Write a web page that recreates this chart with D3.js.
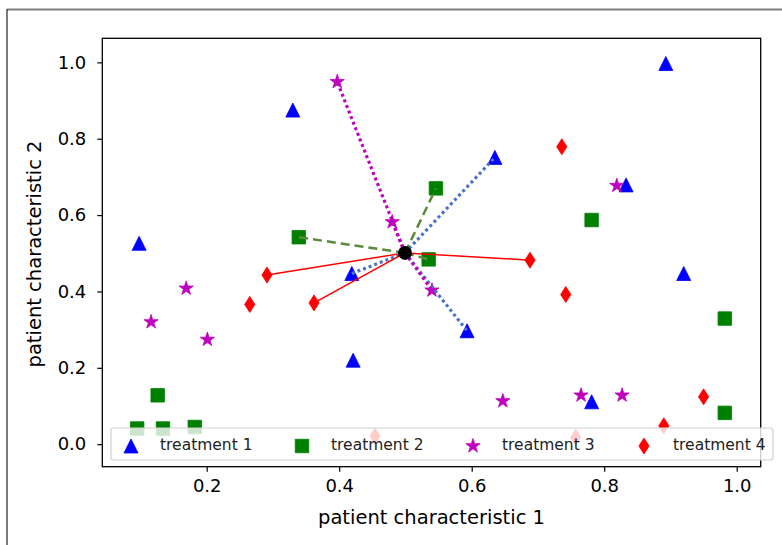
<!DOCTYPE html>
<html>
<head>
<meta charset="utf-8">
<script src="https://cdn.jsdelivr.net/npm/d3@7"></script>
<style>
  body { margin: 0; background: #fff; }
  svg { font-family: "DejaVu Sans", sans-serif; }
</style>
</head>
<body>
<svg id="svg" width="782" height="545"></svg>
<script>
// treatment 1 (triangles)
var t1x = [0.098, 0.330, 0.419, 0.635, 0.593, 0.421, 0.893, 0.833, 0.920, 0.781]
var t1y = [0.526, 0.875, 0.447, 0.751, 0.297, 0.220, 0.997, 0.679, 0.447, 0.111]
// treatment 2 (squares)
var t2x = [0.339, 0.546, 0.535, 0.781, 0.982, 0.982, 0.126, 0.095, 0.134, 0.182]
var t2y = [0.542, 0.670, 0.484, 0.587, 0.329, 0.082, 0.128, 0.041, 0.041, 0.045]
// treatment 3 (stars)
var t3x = [0.397, 0.480, 0.540, 0.116, 0.169, 0.201, 0.647, 0.765, 0.827, 0.819]
var t3y = [0.949, 0.582, 0.403, 0.320, 0.408, 0.274, 0.113, 0.128, 0.128, 0.677]
// treatment 4 (diamonds)
var t4x = [0.291, 0.362, 0.688, 0.265, 0.736, 0.742, 0.950, 0.890, 0.757, 0.454]
var t4y = [0.443, 0.370, 0.482, 0.366, 0.779, 0.392, 0.124, 0.048, 0.018, 0.021]
// points joined to the new patient
var t1links = [2, 3, 4]
var t2links = [0, 1, 2]
var t3links = [0, 1, 2]
var t4links = [0, 1, 2]
var newPatient = [0.4993, 0.501]

var labels = ["treatment 1", "treatment 2", "treatment 3", "treatment 4"]
var xTicks = [0.2, 0.4, 0.6, 0.8, 1.0]
var yTicks = [0.0, 0.2, 0.4, 0.6, 0.8, 1.0]
var xDomain = [0.0424, 1.0362]
var yDomain = [-0.059, 1.063]

var svg = d3.select("#svg")
var plot = {left: 102.3, right: 760.7, top: 38.3, bottom: 466.7}

var x = d3.scaleLinear().domain(xDomain).range([plot.left, plot.right])
var y = d3.scaleLinear().domain(yDomain).range([plot.bottom, plot.top])

// outer frame of the screenshot
svg.append("line").attr("x1", 7).attr("x2", 782).attr("y1", 9.5).attr("y2", 9.5)
    .attr("stroke", "#7f7f7f").attr("stroke-width", 2)
svg.append("line").attr("x1", 7).attr("x2", 7).attr("y1", 9).attr("y2", 545)
    .attr("stroke", "#333").attr("stroke-width", 1.3)

function tri(s) {
    var h = s / 2
    return "M0," + (-h) + "L" + h + "," + h + "L" + (-h) + "," + h + "Z"
}
function square(s) {
    var h = s / 2
    return "M" + (-h) + "," + (-h) + "H" + h + "V" + h + "H" + (-h) + "Z"
}
function diamond(s) {
    var h = s / 2, w = s * 0.32
    return "M0," + (-h) + "L" + w + ",0L0," + h + "L" + (-w) + ",0Z"
}
function star(s) {
    var ro = s / 2, ri = ro * 0.382, p = []
    for (var i = 0; i < 10; i++) {
        var r = i % 2 ? ri : ro
        var a = -Math.PI / 2 + i * Math.PI / 5
        p.push([r * Math.cos(a), r * Math.sin(a)])
    }
    return "M" + p.join("L") + "Z"
}

var series = [
    {xs: t1x, ys: t1y, links: t1links, color: "#0000ff", path: tri(14), line: "#4a74c9", dash: "3,3", lw: 3.2},
    {xs: t2x, ys: t2y, links: t2links, color: "#008000", path: square(13.5), line: "#5a8a3a", dash: "9,5", lw: 2.5},
    {xs: t3x, ys: t3y, links: t3links, color: "#bf00bf", path: star(15), line: "#c000c0", dash: "3,3", lw: 3.2},
    {xs: t4x, ys: t4y, links: t4links, color: "#ff0000", path: diamond(16), line: "#ff0000", dash: null, lw: 1.5}
]

var g = svg.append("g")

// markers
series.forEach(function (s) {
    g.selectAll(null)
        .data(s.xs)
        .enter().append("path")
        .attr("d", s.path)
        .attr("fill", s.color)
        .attr("stroke", s.color)
        .attr("stroke-width", 0.8)
        .attr("transform", function (d, i) {
            return translate(x(d), y(s.ys[i]))
        })
})

// links to the new patient
series.forEach(function (s) {
    g.selectAll(null)
        .data(s.links)
        .enter().append("line")
        .attr("x1", x(newPatient[0]))
        .attr("y1", y(newPatient[1]))
        .attr("x2", function (i) { return x(s.xs[i]) })
        .attr("y2", function (i) { return y(s.ys[i]) })
        .attr("stroke", s.line)
        .attr("stroke-width", s.lw)
        .attr("stroke-dasharray", s.dash)
})

g.append("circle")
    .attr("cx", x(newPatient[0]))
    .attr("cy", y(newPatient[1]))
    .attr("r", 7)
    .attr("fill", "#000")

// axes
var xAxis = svg.append("g")
    .attr("transform", translate(0, plot.bottom))
    .call(d3.axisBottom(x).tickValues(xTicks).tickFormat(d3.format(".1f")).tickSize(5).tickPadding(8).tickSizeOuter(0))
var yAxis = svg.append("g")
    .attr("transform", translate(plot.left, 0))
    .call(d3.axisLeft(y).tickValues(yTicks).tickFormat(d3.format(".1f")).tickSize(5).tickPadding(11).tickSizeOuter(0))

;[xAxis, yAxis].forEach(function (a) {
    a.select(".domain").remove()
    a.selectAll("line").attr("stroke", "#000").attr("stroke-width", 1.2)
    a.selectAll("text").attr("font-size", 18).attr("fill", "#000")
        .attr("font-family", "DejaVu Sans")
})

// frame
svg.append("rect")
    .attr("x", plot.left).attr("y", plot.top)
    .attr("width", plot.right - plot.left).attr("height", plot.bottom - plot.top)
    .attr("fill", "none").attr("stroke", "#000").attr("stroke-width", 1.3)

svg.append("text")
    .attr("x", (plot.left + plot.right) / 2).attr("y", 524)
    .attr("text-anchor", "middle").attr("font-size", 19.5)
    .text("patient characteristic 1")
svg.append("text")
    .attr("transform", translate(41, 254) + " rotate(-90)")
    .attr("text-anchor", "middle").attr("font-size", 19.5)
    .text("patient characteristic 2")

// legend
var leg = svg.append("g")
leg.append("rect")
    .attr("x", 111).attr("y", 428).attr("width", 662).attr("height", 32)
    .attr("rx", 3)
    .attr("fill", "#fff").attr("fill-opacity", 0.8)
    .attr("stroke", "#d0d0d0").attr("stroke-width", 1.2)

var legX = d3.scaleBand().domain(labels).range([131, 131 + 171 * 4])

var items = leg.selectAll(".item")
    .data(series)
    .enter().append("g")
    .attr("class", "item")
    .attr("transform", function (d, i) { return translate(legX(labels[i]), 446) })
items.append("path")
    .attr("d", function (d) { return d.path })
    .attr("fill", function (d) { return d.color })
    .attr("stroke", function (d) { return d.color })
    .attr("stroke-width", 0.8)
items.append("text")
    .attr("x", 29).attr("y", 4)
    .attr("font-size", 15.5).attr("fill", "#222")
    .text(function (d, i) { return labels[i] })

function translate(x, y) {
    return "translate(" + x + "," + y + ")";
}
</script>
</body>
</html>
